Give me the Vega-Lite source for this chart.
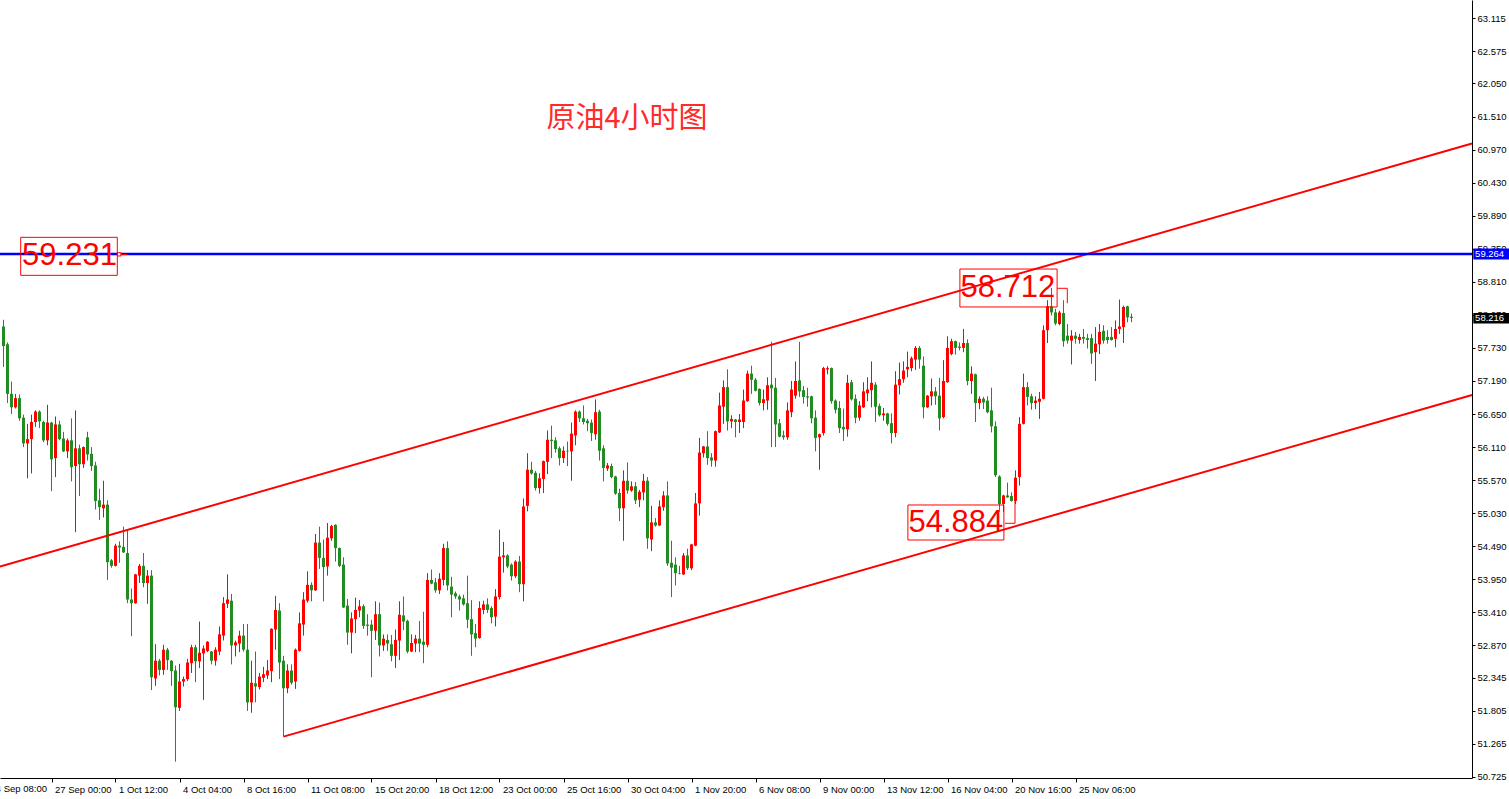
{
"$schema":"https://vega.github.io/schema/vega-lite/v6.json",
"width":1472,"height":778,
"autosize":{"type":"none"},
"padding":{"left":0,"top":0,"right":37,"bottom":21},
"background":"#ffffff",
"config":{
"view":{"stroke":null},
"scale":{"continuousPadding":0},
"axis":{"grid":false,"labelOverlap":false,"labelBound":false,"labelFlush":false,"title":null,"domainColor":"#000000","domainWidth":1,"tickColor":"#000000","tickWidth":1,"labelColor":"#000000","labelFont":"Liberation Sans","labelFontSize":9.5},
"axisX":{"tickSize":4,"labelAlign":"left","labelBaseline":"top","labelOffset":3,"labelPadding":2,"labelOverlap":false,"labelFlush":false,"labelBound":false},
"axisY":{"tickSize":3,"labelAlign":"left","labelBaseline":"middle","labelPadding":2,"labelOverlap":false,"labelFlush":false,"labelBound":false}
},
"datasets":{
"candles":[
{"i":0,"o":58.08,"h":58.19,"l":57.42,"c":57.76},
{"i":1,"o":57.79,"h":57.82,"l":56.83,"c":56.98},
{"i":2,"o":56.98,"h":57.18,"l":56.65,"c":56.76},
{"i":3,"o":56.76,"h":56.98,"l":56.74,"c":56.91},
{"i":4,"o":56.91,"h":56.97,"l":56.54,"c":56.58},
{"i":5,"o":56.59,"h":56.64,"l":56.11,"c":56.17},
{"i":6,"o":56.17,"h":56.49,"l":55.60,"c":56.24},
{"i":7,"o":56.24,"h":56.64,"l":55.68,"c":56.52},
{"i":8,"o":56.52,"h":56.71,"l":56.44,"c":56.69},
{"i":9,"o":56.69,"h":56.71,"l":56.42,"c":56.53},
{"i":10,"o":56.52,"h":56.54,"l":56.19,"c":56.22},
{"i":11,"o":56.22,"h":56.80,"l":56.14,"c":56.51},
{"i":12,"o":56.51,"h":56.52,"l":55.39,"c":55.91},
{"i":13,"o":55.93,"h":56.61,"l":55.62,"c":56.48},
{"i":14,"o":56.48,"h":56.54,"l":56.22,"c":56.24},
{"i":15,"o":56.25,"h":56.36,"l":56.03,"c":56.04},
{"i":16,"o":56.04,"h":56.25,"l":55.93,"c":56.22},
{"i":17,"o":56.22,"h":56.58,"l":55.55,"c":55.78},
{"i":18,"o":55.80,"h":56.71,"l":54.72,"c":56.09},
{"i":19,"o":56.09,"h":56.15,"l":55.31,"c":55.83},
{"i":20,"o":55.83,"h":56.12,"l":55.77,"c":56.11},
{"i":21,"o":56.27,"h":56.36,"l":55.89,"c":55.99},
{"i":22,"o":56.00,"h":56.11,"l":55.72,"c":55.80},
{"i":23,"o":55.81,"h":55.87,"l":55.09,"c":55.23},
{"i":24,"o":55.24,"h":55.43,"l":54.92,"c":55.13},
{"i":25,"o":55.11,"h":55.56,"l":54.96,"c":55.17},
{"i":26,"o":55.17,"h":55.24,"l":53.94,"c":54.23},
{"i":27,"o":54.26,"h":54.28,"l":54.14,"c":54.17},
{"i":28,"o":54.17,"h":54.53,"l":54.16,"c":54.50},
{"i":29,"o":54.50,"h":54.57,"l":54.22,"c":54.47},
{"i":30,"o":54.48,"h":54.81,"l":54.38,"c":54.39},
{"i":31,"o":54.38,"h":54.75,"l":53.56,"c":53.62},
{"i":32,"o":53.62,"h":53.80,"l":53.02,"c":53.56},
{"i":33,"o":53.56,"h":54.04,"l":53.55,"c":54.03},
{"i":34,"o":54.01,"h":54.20,"l":53.89,"c":54.17},
{"i":35,"o":54.17,"h":54.38,"l":53.82,"c":53.89},
{"i":36,"o":53.89,"h":54.10,"l":53.55,"c":54.01},
{"i":37,"o":54.01,"h":54.10,"l":52.14,"c":52.35},
{"i":38,"o":52.33,"h":52.89,"l":52.21,"c":52.62},
{"i":39,"o":52.62,"h":52.65,"l":52.38,"c":52.47},
{"i":40,"o":52.47,"h":52.88,"l":52.39,"c":52.80},
{"i":41,"o":52.80,"h":52.83,"l":52.47,"c":52.63},
{"i":42,"o":52.62,"h":52.63,"l":52.21,"c":52.45},
{"i":43,"o":52.46,"h":52.54,"l":50.97,"c":51.86},
{"i":44,"o":51.85,"h":52.57,"l":51.80,"c":52.28},
{"i":45,"o":52.28,"h":52.36,"l":52.20,"c":52.32},
{"i":46,"o":52.32,"h":52.65,"l":52.29,"c":52.59},
{"i":47,"o":52.58,"h":52.88,"l":52.42,"c":52.84},
{"i":48,"o":52.84,"h":52.88,"l":52.27,"c":52.61},
{"i":49,"o":52.61,"h":53.26,"l":52.50,"c":52.75},
{"i":50,"o":52.74,"h":52.87,"l":51.98,"c":52.82},
{"i":51,"o":52.78,"h":52.94,"l":52.76,"c":52.93},
{"i":52,"o":52.77,"h":52.78,"l":52.56,"c":52.62},
{"i":53,"o":52.62,"h":52.84,"l":52.54,"c":52.80},
{"i":54,"o":52.77,"h":53.18,"l":52.71,"c":53.05},
{"i":55,"o":53.03,"h":53.66,"l":52.95,"c":53.56},
{"i":56,"o":53.55,"h":54.03,"l":53.48,"c":53.62},
{"i":57,"o":53.60,"h":53.71,"l":52.56,"c":52.87},
{"i":58,"o":52.87,"h":52.95,"l":52.69,"c":52.92},
{"i":59,"o":52.90,"h":53.11,"l":52.76,"c":53.03},
{"i":60,"o":53.03,"h":53.22,"l":52.77,"c":52.80},
{"i":61,"o":52.80,"h":53.22,"l":51.80,"c":51.94},
{"i":62,"o":51.94,"h":52.62,"l":51.77,"c":52.26},
{"i":63,"o":52.25,"h":52.77,"l":51.94,"c":52.20},
{"i":64,"o":52.19,"h":52.42,"l":52.15,"c":52.36},
{"i":65,"o":52.34,"h":52.52,"l":52.27,"c":52.40},
{"i":66,"o":52.38,"h":52.63,"l":52.32,"c":52.46},
{"i":67,"o":52.45,"h":53.15,"l":52.27,"c":53.14},
{"i":68,"o":53.13,"h":53.68,"l":52.80,"c":53.45},
{"i":69,"o":53.44,"h":53.56,"l":52.32,"c":52.59},
{"i":70,"o":52.62,"h":52.70,"l":51.38,"c":52.17},
{"i":71,"o":52.17,"h":52.56,"l":52.09,"c":52.46},
{"i":72,"o":52.46,"h":52.56,"l":52.23,"c":52.26},
{"i":73,"o":52.28,"h":52.82,"l":52.16,"c":52.80},
{"i":74,"o":52.78,"h":53.41,"l":52.77,"c":53.23},
{"i":75,"o":53.21,"h":53.74,"l":53.03,"c":53.62},
{"i":76,"o":53.60,"h":54.08,"l":53.57,"c":53.86},
{"i":77,"o":53.86,"h":53.90,"l":53.59,"c":53.77},
{"i":78,"o":53.77,"h":54.69,"l":53.76,"c":54.55},
{"i":79,"o":54.55,"h":54.81,"l":54.12,"c":54.30},
{"i":80,"o":54.30,"h":54.60,"l":53.59,"c":54.15},
{"i":81,"o":54.16,"h":54.87,"l":54.01,"c":54.63},
{"i":82,"o":54.62,"h":54.84,"l":54.58,"c":54.82},
{"i":83,"o":54.84,"h":54.85,"l":54.24,"c":54.46},
{"i":84,"o":54.46,"h":54.47,"l":54.15,"c":54.17},
{"i":85,"o":54.19,"h":54.31,"l":53.48,"c":53.49},
{"i":86,"o":53.52,"h":53.63,"l":52.88,"c":53.08},
{"i":87,"o":53.08,"h":53.41,"l":52.74,"c":53.31},
{"i":88,"o":53.30,"h":53.65,"l":53.07,"c":53.45},
{"i":89,"o":53.44,"h":53.61,"l":53.33,"c":53.51},
{"i":90,"o":53.51,"h":53.54,"l":53.14,"c":53.19},
{"i":91,"o":53.21,"h":53.38,"l":53.03,"c":53.19},
{"i":92,"o":53.21,"h":53.29,"l":52.35,"c":53.11},
{"i":93,"o":53.11,"h":53.59,"l":52.96,"c":53.38},
{"i":94,"o":53.38,"h":53.57,"l":52.69,"c":52.87},
{"i":95,"o":52.87,"h":53.05,"l":52.78,"c":52.98},
{"i":96,"o":52.96,"h":53.05,"l":52.78,"c":52.90},
{"i":97,"o":52.89,"h":53.04,"l":52.61,"c":52.70},
{"i":98,"o":52.70,"h":53.13,"l":52.50,"c":52.96},
{"i":99,"o":52.95,"h":53.59,"l":52.63,"c":53.37},
{"i":100,"o":53.36,"h":53.67,"l":53.12,"c":53.26},
{"i":101,"o":53.27,"h":53.29,"l":52.74,"c":52.77},
{"i":102,"o":52.77,"h":53.05,"l":52.76,"c":52.91},
{"i":103,"o":52.90,"h":53.04,"l":52.76,"c":52.98},
{"i":104,"o":52.98,"h":53.27,"l":52.76,"c":52.90},
{"i":105,"o":52.93,"h":53.42,"l":52.58,"c":52.88},
{"i":106,"o":52.88,"h":54.05,"l":52.84,"c":53.94},
{"i":107,"o":53.94,"h":54.11,"l":53.87,"c":53.88},
{"i":108,"o":53.90,"h":53.97,"l":53.73,"c":53.77},
{"i":109,"o":53.77,"h":54.05,"l":53.71,"c":53.96},
{"i":110,"o":53.94,"h":54.53,"l":53.85,"c":54.46},
{"i":111,"o":54.46,"h":54.57,"l":53.77,"c":53.85},
{"i":112,"o":53.83,"h":53.99,"l":53.33,"c":53.70},
{"i":113,"o":53.72,"h":53.75,"l":53.63,"c":53.67},
{"i":114,"o":53.67,"h":53.70,"l":53.44,"c":53.62},
{"i":115,"o":53.64,"h":53.70,"l":53.52,"c":53.54},
{"i":116,"o":53.56,"h":54.01,"l":53.15,"c":53.29},
{"i":117,"o":53.30,"h":53.61,"l":52.70,"c":53.05},
{"i":118,"o":53.07,"h":53.22,"l":52.84,"c":52.98},
{"i":119,"o":52.99,"h":53.59,"l":52.98,"c":53.48},
{"i":120,"o":53.45,"h":53.60,"l":53.38,"c":53.54},
{"i":121,"o":53.54,"h":53.64,"l":53.40,"c":53.45},
{"i":122,"o":53.48,"h":53.51,"l":53.23,"c":53.33},
{"i":123,"o":53.34,"h":53.79,"l":53.18,"c":53.67},
{"i":124,"o":53.66,"h":54.76,"l":53.62,"c":54.32},
{"i":125,"o":54.31,"h":54.56,"l":54.06,"c":54.34},
{"i":126,"o":54.34,"h":54.36,"l":54.13,"c":54.16},
{"i":127,"o":54.19,"h":54.21,"l":53.93,"c":54.00},
{"i":128,"o":54.00,"h":54.26,"l":53.97,"c":54.24},
{"i":129,"o":54.24,"h":54.33,"l":53.74,"c":53.87},
{"i":130,"o":53.87,"h":55.27,"l":53.59,"c":55.14},
{"i":131,"o":55.15,"h":56.01,"l":55.06,"c":55.74},
{"i":132,"o":55.74,"h":55.87,"l":55.66,"c":55.68},
{"i":133,"o":55.69,"h":55.72,"l":55.40,"c":55.44},
{"i":134,"o":55.44,"h":55.68,"l":55.35,"c":55.60},
{"i":135,"o":55.59,"h":55.89,"l":55.36,"c":55.88},
{"i":136,"o":55.87,"h":56.38,"l":55.67,"c":56.23},
{"i":137,"o":56.23,"h":56.46,"l":55.93,"c":56.21},
{"i":138,"o":56.22,"h":56.27,"l":56.02,"c":56.08},
{"i":139,"o":56.09,"h":56.12,"l":55.81,"c":55.93},
{"i":140,"o":55.93,"h":56.12,"l":55.85,"c":56.05},
{"i":141,"o":56.05,"h":56.20,"l":55.80,"c":56.04},
{"i":142,"o":56.04,"h":56.51,"l":55.56,"c":56.33},
{"i":143,"o":56.30,"h":56.71,"l":56.14,"c":56.69},
{"i":144,"o":56.69,"h":56.71,"l":56.52,"c":56.58},
{"i":145,"o":56.58,"h":56.79,"l":56.48,"c":56.52},
{"i":146,"o":56.54,"h":56.57,"l":56.37,"c":56.50},
{"i":147,"o":56.51,"h":56.56,"l":56.21,"c":56.34},
{"i":148,"o":56.32,"h":56.89,"l":56.23,"c":56.68},
{"i":149,"o":56.69,"h":56.72,"l":55.89,"c":56.05},
{"i":150,"o":56.09,"h":56.14,"l":55.55,"c":55.77},
{"i":151,"o":55.76,"h":55.85,"l":55.72,"c":55.81},
{"i":152,"o":55.80,"h":55.84,"l":55.60,"c":55.62},
{"i":153,"o":55.63,"h":55.64,"l":55.33,"c":55.35},
{"i":154,"o":55.36,"h":55.43,"l":54.90,"c":55.11},
{"i":155,"o":55.11,"h":55.73,"l":54.58,"c":55.56},
{"i":156,"o":55.56,"h":55.86,"l":55.35,"c":55.40},
{"i":157,"o":55.40,"h":55.55,"l":55.38,"c":55.47},
{"i":158,"o":55.47,"h":55.54,"l":55.18,"c":55.24},
{"i":159,"o":55.25,"h":55.41,"l":55.13,"c":55.38},
{"i":160,"o":55.37,"h":55.67,"l":55.24,"c":55.56},
{"i":161,"o":55.56,"h":55.62,"l":54.45,"c":54.62},
{"i":162,"o":54.60,"h":55.15,"l":54.41,"c":54.88},
{"i":163,"o":54.88,"h":54.95,"l":54.81,"c":54.83},
{"i":164,"o":54.83,"h":55.24,"l":54.82,"c":55.14},
{"i":165,"o":55.13,"h":55.39,"l":55.07,"c":55.32},
{"i":166,"o":55.32,"h":55.55,"l":54.17,"c":54.21},
{"i":167,"o":54.22,"h":54.58,"l":53.66,"c":54.14},
{"i":168,"o":54.19,"h":54.31,"l":53.85,"c":54.05},
{"i":169,"o":54.05,"h":54.17,"l":54.03,"c":54.04},
{"i":170,"o":54.03,"h":54.38,"l":54.02,"c":54.34},
{"i":171,"o":54.34,"h":54.45,"l":54.10,"c":54.13},
{"i":172,"o":54.13,"h":54.53,"l":54.10,"c":54.52},
{"i":173,"o":54.50,"h":55.36,"l":54.49,"c":55.19},
{"i":174,"o":55.19,"h":56.26,"l":54.99,"c":56.02},
{"i":175,"o":56.01,"h":56.13,"l":55.94,"c":56.12},
{"i":176,"o":56.12,"h":56.37,"l":55.82,"c":55.93},
{"i":177,"o":55.94,"h":56.01,"l":55.79,"c":55.89},
{"i":178,"o":55.89,"h":56.38,"l":55.79,"c":56.37},
{"i":179,"o":56.35,"h":57.00,"l":56.34,"c":56.79},
{"i":180,"o":56.77,"h":57.20,"l":56.49,"c":57.09},
{"i":181,"o":57.09,"h":57.38,"l":56.38,"c":56.53},
{"i":182,"o":56.53,"h":56.63,"l":56.42,"c":56.57},
{"i":183,"o":56.56,"h":56.57,"l":56.27,"c":56.52},
{"i":184,"o":56.52,"h":56.65,"l":56.34,"c":56.56},
{"i":185,"o":56.52,"h":57.05,"l":56.42,"c":56.87},
{"i":186,"o":56.86,"h":57.36,"l":56.85,"c":57.31},
{"i":187,"o":57.31,"h":57.44,"l":56.98,"c":57.21},
{"i":188,"o":57.21,"h":57.24,"l":57.02,"c":57.03},
{"i":189,"o":57.06,"h":57.07,"l":56.79,"c":56.83},
{"i":190,"o":56.83,"h":57.05,"l":56.71,"c":56.89},
{"i":191,"o":56.87,"h":57.25,"l":56.72,"c":57.12},
{"i":192,"o":57.13,"h":57.83,"l":56.11,"c":57.07},
{"i":193,"o":57.08,"h":57.24,"l":56.11,"c":56.48},
{"i":194,"o":56.50,"h":56.57,"l":56.27,"c":56.28},
{"i":195,"o":56.30,"h":56.38,"l":56.23,"c":56.27},
{"i":196,"o":56.27,"h":56.84,"l":56.23,"c":56.71},
{"i":197,"o":56.68,"h":57.19,"l":56.60,"c":57.05},
{"i":198,"o":56.95,"h":57.51,"l":56.90,"c":57.19},
{"i":199,"o":57.20,"h":57.83,"l":56.93,"c":57.02},
{"i":200,"o":57.04,"h":57.11,"l":56.82,"c":56.93},
{"i":201,"o":56.94,"h":57.08,"l":56.77,"c":56.92},
{"i":202,"o":56.94,"h":56.95,"l":56.50,"c":56.58},
{"i":203,"o":56.59,"h":56.71,"l":56.04,"c":56.26},
{"i":204,"o":56.27,"h":56.33,"l":55.74,"c":56.32},
{"i":205,"o":56.34,"h":57.42,"l":56.30,"c":57.40},
{"i":206,"o":57.38,"h":57.43,"l":57.30,"c":57.40},
{"i":207,"o":57.40,"h":57.41,"l":56.82,"c":56.86},
{"i":208,"o":56.87,"h":56.89,"l":56.66,"c":56.72},
{"i":209,"o":56.75,"h":56.86,"l":56.34,"c":56.42},
{"i":210,"o":56.44,"h":56.74,"l":56.21,"c":56.40},
{"i":211,"o":56.40,"h":57.29,"l":56.28,"c":57.16},
{"i":212,"o":57.17,"h":57.21,"l":56.87,"c":56.89},
{"i":213,"o":56.90,"h":56.97,"l":56.50,"c":56.59},
{"i":214,"o":56.59,"h":56.86,"l":56.54,"c":56.79},
{"i":215,"o":56.76,"h":57.17,"l":56.75,"c":57.02},
{"i":216,"o":56.99,"h":57.25,"l":56.86,"c":57.05},
{"i":217,"o":57.04,"h":57.51,"l":56.76,"c":57.16},
{"i":218,"o":57.13,"h":57.17,"l":56.52,"c":56.77},
{"i":219,"o":56.78,"h":56.82,"l":56.61,"c":56.63},
{"i":220,"o":56.63,"h":56.75,"l":56.54,"c":56.66},
{"i":221,"o":56.66,"h":56.67,"l":56.46,"c":56.49},
{"i":222,"o":56.50,"h":56.66,"l":56.17,"c":56.34},
{"i":223,"o":56.34,"h":57.35,"l":56.27,"c":57.13},
{"i":224,"o":57.12,"h":57.49,"l":56.97,"c":57.22},
{"i":225,"o":57.22,"h":57.51,"l":57.16,"c":57.36},
{"i":226,"o":57.38,"h":57.67,"l":57.25,"c":57.42},
{"i":227,"o":57.40,"h":57.59,"l":57.35,"c":57.56},
{"i":228,"o":57.54,"h":57.76,"l":57.37,"c":57.73},
{"i":229,"o":57.73,"h":57.76,"l":57.39,"c":57.54},
{"i":230,"o":57.44,"h":57.59,"l":56.58,"c":56.76},
{"i":231,"o":56.76,"h":56.96,"l":56.75,"c":56.95},
{"i":232,"o":56.94,"h":57.23,"l":56.79,"c":57.02},
{"i":233,"o":57.02,"h":57.09,"l":56.80,"c":56.94},
{"i":234,"o":56.95,"h":57.24,"l":56.38,"c":56.58},
{"i":235,"o":56.60,"h":57.53,"l":56.58,"c":57.19},
{"i":236,"o":57.17,"h":57.92,"l":57.16,"c":57.73},
{"i":237,"o":57.63,"h":57.88,"l":57.61,"c":57.84},
{"i":238,"o":57.84,"h":57.85,"l":57.62,"c":57.73},
{"i":239,"o":57.75,"h":57.82,"l":57.69,"c":57.73},
{"i":240,"o":57.73,"h":58.04,"l":57.66,"c":57.81},
{"i":241,"o":57.81,"h":57.87,"l":57.12,"c":57.19},
{"i":242,"o":57.19,"h":57.43,"l":56.98,"c":57.31},
{"i":243,"o":57.30,"h":57.31,"l":56.52,"c":56.83},
{"i":244,"o":56.83,"h":56.94,"l":56.73,"c":56.90},
{"i":245,"o":56.90,"h":56.93,"l":56.73,"c":56.84},
{"i":246,"o":56.87,"h":56.94,"l":56.66,"c":56.68},
{"i":247,"o":56.71,"h":57.08,"l":56.35,"c":56.45},
{"i":248,"o":56.45,"h":56.53,"l":55.62,"c":55.65},
{"i":249,"o":55.63,"h":55.65,"l":55.05,"c":55.18},
{"i":250,"o":55.18,"h":55.33,"l":55.05,"c":55.32},
{"i":251,"o":55.32,"h":55.53,"l":55.28,"c":55.29},
{"i":252,"o":55.31,"h":55.37,"l":55.22,"c":55.23},
{"i":253,"o":55.23,"h":55.73,"l":55.18,"c":55.61},
{"i":254,"o":55.62,"h":56.60,"l":55.48,"c":56.49},
{"i":255,"o":56.49,"h":57.31,"l":56.48,"c":57.09},
{"i":256,"o":57.09,"h":57.17,"l":56.79,"c":56.93},
{"i":257,"o":56.94,"h":56.98,"l":56.72,"c":56.83},
{"i":258,"o":56.83,"h":56.94,"l":56.73,"c":56.87},
{"i":259,"o":56.85,"h":57.01,"l":56.57,"c":56.90},
{"i":260,"o":56.90,"h":58.10,"l":56.89,"c":58.02},
{"i":261,"o":58.02,"h":58.51,"l":57.81,"c":58.41},
{"i":262,"o":58.41,"h":58.71,"l":58.26,"c":58.31},
{"i":263,"o":58.31,"h":58.37,"l":58.10,"c":58.13},
{"i":264,"o":58.12,"h":58.34,"l":58.10,"c":58.31},
{"i":265,"o":58.30,"h":58.51,"l":57.75,"c":57.84},
{"i":266,"o":57.93,"h":58.12,"l":57.80,"c":57.85},
{"i":267,"o":57.85,"h":58.02,"l":57.46,"c":57.93},
{"i":268,"o":57.93,"h":57.99,"l":57.80,"c":57.88},
{"i":269,"o":57.86,"h":57.96,"l":57.80,"c":57.91},
{"i":270,"o":57.91,"h":58.04,"l":57.80,"c":57.88},
{"i":271,"o":57.89,"h":57.96,"l":57.72,"c":57.86},
{"i":272,"o":57.89,"h":57.96,"l":57.47,"c":57.64},
{"i":273,"o":57.66,"h":58.07,"l":57.19,"c":57.80},
{"i":274,"o":57.79,"h":58.12,"l":57.63,"c":57.99},
{"i":275,"o":58.01,"h":58.10,"l":57.80,"c":57.85},
{"i":276,"o":57.91,"h":58.02,"l":57.80,"c":57.86},
{"i":277,"o":57.91,"h":58.07,"l":57.85,"c":57.86},
{"i":278,"o":57.88,"h":58.18,"l":57.74,"c":58.04},
{"i":279,"o":58.04,"h":58.52,"l":57.96,"c":58.08},
{"i":280,"o":58.07,"h":58.42,"l":57.81,"c":58.40},
{"i":281,"o":58.41,"h":58.42,"l":58.15,"c":58.23},
{"i":282,"o":58.24,"h":58.29,"l":58.15,"c":58.22}
],
"chan":[
{"g":"up","i":-0.875,"p":54.159},{"g":"up","i":367.125,"p":61.070},
{"g":"lo","i":70,"p":51.38},{"g":"lo","i":367.125,"p":56.961}
],
"blue":[{"i":-0.875,"p":59.264},{"i":367.125,"p":59.264}],
"notes":[
{"t":"59.231","i":16.5,"p":59.224,"x1":4.3,"x2":28.45,"y1":59.537,"y2":58.916},
{"t":"58.712","i":251.1,"p":58.709,"x1":239.1,"x2":263.4,"y1":59.019,"y2":58.399},
{"t":"54.884","i":238.1,"p":54.870,"x1":226.1,"x2":250.1,"y1":55.164,"y2":54.592}
],
"marks":[
{"i":28.45,"x2":29.35,"y1":59.286,"y2":59.232}
],
"brk":[
{"g":"a","n":0,"i":263.45,"p":58.704},{"g":"a","n":1,"i":265.95,"p":58.704},{"g":"a","n":2,"i":265.95,"p":58.459},
{"g":"b","n":0,"i":250.375,"p":54.865},{"g":"b","n":1,"i":252.875,"p":54.865},{"g":"b","n":2,"i":252.875,"p":55.246},
{"g":"c","n":0,"i":29.35,"p":59.256},{"g":"c","n":1,"i":30.95,"p":59.256}
],
"title":[{"t":"原油4小时图","i":155.875,"p":61.462}],
"edge":[{"t":"24 Sep 08:00","i":-4,"p":50.606}],
"tags":[
{"t":"59.264","k":"level","p":59.264,"x1":367.45,"x2":376.6,"y1":59.354,"y2":59.174,"i":367.9},
{"t":"58.216","k":"last","p":58.216,"x1":367.45,"x2":376.6,"y1":58.300,"y2":58.129,"i":367.9}
]
},
"layer":[
{
"data":{"name":"candles"},
"mark":{"type":"rule","strokeWidth":1},
"encoding":{
"x":{"field":"i","type":"quantitative","title":null,"scale":{"domain":[-0.875,367.125],"nice":false,"zero":false,"padding":0},
"axis":{"orient":"bottom","title":null,"tickCount":40,"values":[12,28,44,60,76,92,108,124,140,156,172,188,204,220,236,252,268],
"labelExpr":"['27 Sep 00:00','1 Oct 12:00','4 Oct 04:00','8 Oct 16:00','11 Oct 08:00','15 Oct 20:00','18 Oct 12:00','23 Oct 00:00','25 Oct 16:00','30 Oct 04:00','1 Nov 20:00','6 Nov 08:00','9 Nov 00:00','13 Nov 12:00','16 Nov 04:00','20 Nov 16:00','25 Nov 06:00'][(datum.value-12)/16]",
"domain":true,"ticks":true,"tickSize":4,"labelAlign":"left","labelBaseline":"top","labelOffset":3,"labelPadding":2,
"labelOverlap":false,"labelBound":false,"labelFlush":false,"grid":false}},
"y":{"field":"l","type":"quantitative","title":null,"scale":{"domain":[50.704,63.414],"nice":false,"zero":false,"padding":0},
"axis":{"orient":"right","title":null,"tickCount":40,"values":[63.115,62.575,62.05,61.51,60.97,60.43,59.89,59.35,58.81,58.27,57.73,57.19,56.65,56.11,55.57,55.03,54.49,53.95,53.41,52.87,52.345,51.805,51.265,50.725],
"format":".3f","domain":true,"ticks":true,"tickSize":3,"labelAlign":"left","labelBaseline":"middle","labelPadding":2,
"labelOverlap":false,"labelBound":false,"labelFlush":false,"grid":false}},
"y2":{"field":"h"},
"color":{"condition":{"test":"datum.c >= datum.o","value":"#ff0000"},"value":"#228b22"}
}
},
{
"data":{"name":"candles"},
"mark":{"type":"bar","width":3},
"encoding":{
"x":{"field":"i","type":"quantitative","title":null,"scale":{"domain":[-0.875,367.125],"nice":false,"zero":false,"padding":0}},
"y":{"field":"o","type":"quantitative","title":null,"scale":{"domain":[50.704,63.414],"nice":false,"zero":false,"padding":0}},
"y2":{"field":"c"},
"color":{"condition":{"test":"datum.c >= datum.o","value":"#ff0000"},"value":"#228b22"}
}
},
{
"data":{"name":"chan"},
"mark":{"type":"line","color":"#ff0000","strokeWidth":2},
"encoding":{
"x":{"field":"i","type":"quantitative","title":null,"scale":{"domain":[-0.875,367.125],"nice":false,"zero":false,"padding":0}},
"y":{"field":"p","type":"quantitative","title":null,"scale":{"domain":[50.704,63.414],"nice":false,"zero":false,"padding":0}},
"detail":{"field":"g"}
}
},
{
"data":{"name":"blue"},
"mark":{"type":"line","color":"#0000ff","strokeWidth":2.5},
"encoding":{
"x":{"field":"i","type":"quantitative","title":null,"scale":{"domain":[-0.875,367.125],"nice":false,"zero":false,"padding":0}},
"y":{"field":"p","type":"quantitative","title":null,"scale":{"domain":[50.704,63.414],"nice":false,"zero":false,"padding":0}}
}
},
{
"data":{"name":"brk"},
"mark":{"type":"line","color":"#ff0000","strokeWidth":1},
"encoding":{
"x":{"field":"i","type":"quantitative","title":null,"scale":{"domain":[-0.875,367.125],"nice":false,"zero":false,"padding":0}},
"y":{"field":"p","type":"quantitative","title":null,"scale":{"domain":[50.704,63.414],"nice":false,"zero":false,"padding":0}},
"detail":{"field":"g"},
"order":{"field":"n"}
}
},
{
"data":{"name":"marks"},
"mark":{"type":"rect","fill":"#ffffff","stroke":"#ff0000","strokeWidth":1},
"encoding":{
"x":{"field":"i","type":"quantitative","title":null,"scale":{"domain":[-0.875,367.125],"nice":false,"zero":false,"padding":0}},
"x2":{"field":"x2"},
"y":{"field":"y1","type":"quantitative","title":null,"scale":{"domain":[50.704,63.414],"nice":false,"zero":false,"padding":0}},
"y2":{"field":"y2"}
}
},
{
"data":{"name":"notes"},
"mark":{"type":"rect","fill":"transparent","stroke":"#ff0000","strokeWidth":1},
"encoding":{
"x":{"field":"x1","type":"quantitative","title":null,"scale":{"domain":[-0.875,367.125],"nice":false,"zero":false,"padding":0}},
"x2":{"field":"x2"},
"y":{"field":"y1","type":"quantitative","title":null,"scale":{"domain":[50.704,63.414],"nice":false,"zero":false,"padding":0}},
"y2":{"field":"y2"}
}
},
{
"data":{"name":"notes"},
"mark":{"type":"text","font":"Liberation Sans","fontSize":31,"color":"#ff0000","align":"center","baseline":"middle"},
"encoding":{
"x":{"field":"i","type":"quantitative","title":null,"scale":{"domain":[-0.875,367.125],"nice":false,"zero":false,"padding":0}},
"y":{"field":"p","type":"quantitative","title":null,"scale":{"domain":[50.704,63.414],"nice":false,"zero":false,"padding":0}},
"text":{"field":"t"}
}
},
{
"data":{"name":"title"},
"mark":{"type":"text","font":"Noto Sans CJK SC","fontSize":29,"color":"#ff2a2a","align":"center","baseline":"middle"},
"encoding":{
"x":{"field":"i","type":"quantitative","title":null,"scale":{"domain":[-0.875,367.125],"nice":false,"zero":false,"padding":0}},
"y":{"field":"p","type":"quantitative","title":null,"scale":{"domain":[50.704,63.414],"nice":false,"zero":false,"padding":0}},
"text":{"field":"t"}
}
},
{
"data":{"name":"edge"},
"mark":{"type":"text","font":"Liberation Sans","fontSize":9.5,"color":"#000000","align":"left","baseline":"top","dx":3},
"encoding":{
"x":{"field":"i","type":"quantitative","title":null,"scale":{"domain":[-0.875,367.125],"nice":false,"zero":false,"padding":0}},
"y":{"field":"p","type":"quantitative","title":null,"scale":{"domain":[50.704,63.414],"nice":false,"zero":false,"padding":0}},
"text":{"field":"t"}
}
},
{
"data":{"name":"tags"},
"mark":{"type":"rect"},
"encoding":{
"x":{"field":"x1","type":"quantitative","title":null,"scale":{"domain":[-0.875,367.125],"nice":false,"zero":false,"padding":0}},
"x2":{"field":"x2"},
"y":{"field":"y1","type":"quantitative","title":null,"scale":{"domain":[50.704,63.414],"nice":false,"zero":false,"padding":0}},
"y2":{"field":"y2"},
"color":{"field":"k","type":"nominal","scale":{"domain":["level","last"],"range":["#0000ff","#000000"]},"legend":null}
}
},
{
"data":{"name":"tags"},
"mark":{"type":"text","font":"Liberation Sans","fontSize":9.5,"color":"#ffffff","align":"left","baseline":"middle"},
"encoding":{
"x":{"field":"i","type":"quantitative","title":null,"scale":{"domain":[-0.875,367.125],"nice":false,"zero":false,"padding":0}},
"y":{"field":"p","type":"quantitative","title":null,"scale":{"domain":[50.704,63.414],"nice":false,"zero":false,"padding":0}},
"text":{"field":"t"}
}
}
]
}
